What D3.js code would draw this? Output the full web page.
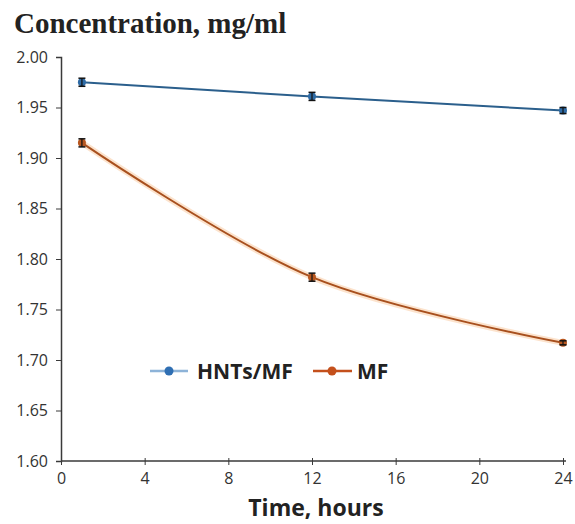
<!DOCTYPE html>
<html><head><meta charset="utf-8">
<script src="https://cdn.jsdelivr.net/npm/d3@7"></script>
<style>body{margin:0;background:#fff}</style>
</head><body>
<svg id="c" width="575" height="524"></svg>
<script>
const times = [1, 12, 24];
const hntsValues = [1.975, 1.961, 1.947];
const hntsErrors = [0.004, 0.004, 0.003];
const mfValues = [1.915, 1.782, 1.717];
const mfErrors = [0.004, 0.004, 0.002];
const xTicks = [0, 4, 8, 12, 16, 20, 24];
const yTicks = [1.60, 1.65, 1.70, 1.75, 1.80, 1.85, 1.90, 1.95, 2.00];
const seriesNames = ["HNTs/MF", "MF"];

const svg = d3.select("#c");
const x = d3.scaleLinear().domain([0, 24]).range([61, 563]);
const y = d3.scaleLinear().domain([1.60, 2.00]).range([461, 57]);
const axisColor = "#3a3a3a";

// title
svg.append("text").attr("x", 14).attr("y", 33)
  .attr("font-family", "Liberation Serif, Times New Roman, serif")
  .attr("font-weight", "bold").attr("font-size", 29).attr("fill", "#222")
  .text("Concentration, mg/ml");

// y axis
const yAxis = svg.append("g").attr("transform", `translate(${x(0)},0)`)
  .call(d3.axisLeft(y).tickValues(yTicks).tickSize(5).tickPadding(8)
    .tickFormat(d => d3.format(".2f")(d)));
yAxis.select(".domain").attr("stroke", axisColor).attr("stroke-width", 1.5);
yAxis.selectAll(".tick line").attr("stroke", axisColor);
yAxis.selectAll("text").attr("font-family", "Open Sans, Liberation Sans, sans-serif")
  .attr("font-size", 16).attr("fill", "#333");

// x axis
const xAxis = svg.append("g").attr("transform", `translate(0,${y(1.60)})`)
  .call(d3.axisBottom(x).tickValues(xTicks).tickSize(4).tickPadding(8));
xAxis.select(".domain").attr("stroke", axisColor).attr("stroke-width", 1.5)
  .attr("d", `M${x(0)},0H566`);
xAxis.selectAll(".tick line").attr("stroke", axisColor).attr("y1", -3);
xAxis.selectAll("text").attr("font-family", "Open Sans, Liberation Sans, sans-serif")
  .attr("font-size", 16).attr("fill", "#333");

svg.append("text").attr("x", 316).attr("y", 516).attr("text-anchor", "middle")
  .attr("font-family", "Open Sans, Liberation Sans, sans-serif")
  .attr("font-weight", "bold").attr("font-size", 23).attr("fill", "#222")
  .text("Time, hours");

const line = d3.line().x(d => x(d[0])).y(d => y(d[1])).curve(d3.curveCatmullRom.alpha(0.5));

function drawSeries(vals, errs, lineColor, glow, markColor) {
  const pts = times.map((t, i) => [t, vals[i]]);
  if (glow) {
    svg.append("path").attr("d", line(pts)).attr("fill", "none")
      .attr("stroke", glow).attr("stroke-width", 6).attr("stroke-opacity", 0.35);
  }
  svg.append("path").attr("d", line(pts)).attr("fill", "none")
    .attr("stroke", lineColor).attr("stroke-width", 2);
  const g = svg.append("g");
  pts.forEach((p, i) => {
    const cx = x(p[0]);
    g.append("circle").attr("cx", cx).attr("cy", y(p[1])).attr("r", 4).attr("fill", markColor);
    const y1 = y(p[1] + errs[i]), y2 = y(p[1] - errs[i]);
    g.append("line").attr("x1", cx).attr("x2", cx).attr("y1", y1).attr("y2", y2).attr("stroke", "#111").attr("stroke-width", 1.2);
    g.append("line").attr("x1", cx - 3.5).attr("x2", cx + 3.5).attr("y1", y1).attr("y2", y1).attr("stroke", "#111").attr("stroke-width", 1.5);
    g.append("line").attr("x1", cx - 3.5).attr("x2", cx + 3.5).attr("y1", y2).attr("y2", y2).attr("stroke", "#111").attr("stroke-width", 1.5);
  });
}
drawSeries(hntsValues, hntsErrors, "#2b5f8c", null, "#2e6ba6");
drawSeries(mfValues, mfErrors, "#a8501e", "#f5b070", "#b8571f");

// legend
const leg = svg.append("g").attr("font-family", "Open Sans, Liberation Sans, sans-serif")
  .attr("font-weight", "bold").attr("font-size", 21).attr("fill", "#222");
leg.append("line").attr("x1", 150).attr("x2", 188).attr("y1", 371).attr("y2", 371).attr("stroke", "#8db3d8").attr("stroke-width", 2.5);
leg.append("circle").attr("cx", 169).attr("cy", 371).attr("r", 4.5).attr("fill", "#2f6fb3");
leg.append("text").attr("x", 197).attr("y", 378.5).text(seriesNames[0]);
leg.append("line").attr("x1", 313).attr("x2", 352).attr("y1", 371).attr("y2", 371).attr("stroke", "#c4501c").attr("stroke-width", 2.5);
leg.append("circle").attr("cx", 332).attr("cy", 371).attr("r", 4.5).attr("fill", "#c4501c");
leg.append("text").attr("x", 357).attr("y", 378.5).text(seriesNames[1]);
</script>
</body></html>
